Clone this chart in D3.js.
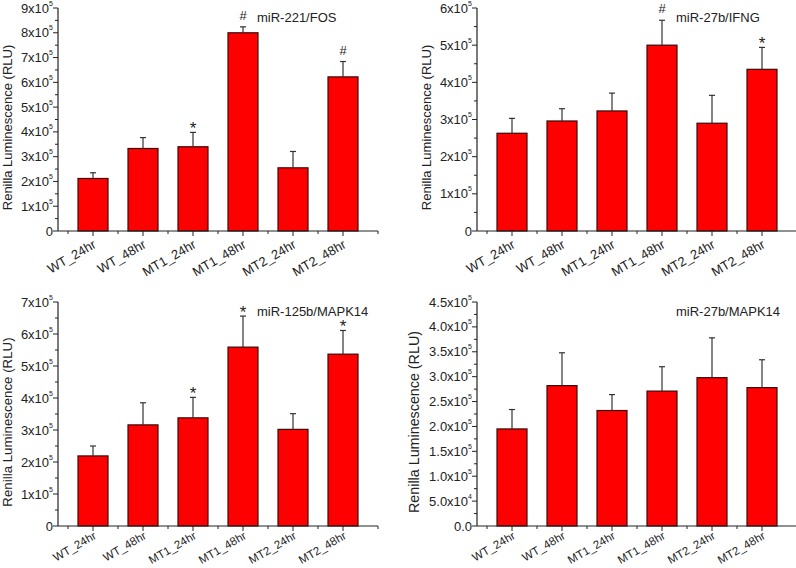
<!DOCTYPE html>
<html>
<head>
<meta charset="utf-8">
<script src="https://cdn.jsdelivr.net/npm/d3@7"></script>
<style>
  body { margin: 0; background: #fff; }
  svg { font-family: "Liberation Sans", Arial, sans-serif; }
</style>
</head>
<body>
<svg id="chart" width="796" height="568"></svg>
<script>
// bar fill #FF0000, outline dark

var categories = ["WT_24hr", "WT_48hr", "MT1_24hr", "MT1_48hr", "MT2_24hr", "MT2_48hr"];

// miR-221/FOS
var fosMean = [2.12e5, 3.33e5, 3.40e5, 8.00e5, 2.55e5, 6.22e5];
var fosErr = [0.23e5, 0.44e5, 0.58e5, 0.24e5, 0.66e5, 0.62e5];
var fosMarks = ["", "", "*", "#", "", "#"];

// miR-27b/IFNG
var ifngMean = [2.63e5, 2.96e5, 3.23e5, 5.00e5, 2.90e5, 4.35e5];
var ifngErr = [0.40e5, 0.33e5, 0.48e5, 0.67e5, 0.75e5, 0.59e5];
var ifngMarks = ["", "", "", "#", "", "*"];

// miR-125b/MAPK14
var m125Mean = [2.19e5, 3.16e5, 3.38e5, 5.59e5, 3.02e5, 5.37e5];
var m125Err = [0.31e5, 0.69e5, 0.64e5, 0.97e5, 0.49e5, 0.74e5];
var m125Marks = ["", "", "*", "*", "", "*"];

// miR-27b/MAPK14
var m27Mean = [1.95e5, 2.82e5, 2.32e5, 2.71e5, 2.98e5, 2.78e5];
var m27Err = [0.39e5, 0.66e5, 0.32e5, 0.49e5, 0.80e5, 0.56e5];
var m27Marks = ["", "", "", "", "", ""];

var panels = [
    { title: "miR-221/FOS", mean: fosMean, err: fosErr, marks: fosMarks,
      yMax: 9e5, step: 1e5, dec: 0, left: 58, right: 378, top: 8, bottom: 231,
      titleX: 7, titleSize: 13, xlabSize: 13, xlabDy: 16 },
    { title: "miR-27b/IFNG", mean: ifngMean, err: ifngErr, marks: ifngMarks,
      yMax: 6e5, step: 1e5, dec: 0, left: 477, right: 797, top: 8, bottom: 231,
      titleX: 426, titleSize: 13, xlabSize: 13, xlabDy: 16 },
    { title: "miR-125b/MAPK14", mean: m125Mean, err: m125Err, marks: m125Marks,
      yMax: 7e5, step: 1e5, dec: 0, left: 58, right: 378, top: 302, bottom: 526,
      titleX: 7, titleSize: 13.3, xlabSize: 11.5, xlabDy: 12 },
    { title: "miR-27b/MAPK14", mean: m27Mean, err: m27Err, marks: m27Marks,
      yMax: 4.5e5, step: 0.5e5, dec: 1, left: 477, right: 797, top: 302, bottom: 526,
      titleX: 414, titleSize: 14.3, xlabSize: 11.5, xlabDy: 12 }
];

var svg = d3.select("#chart");

panels.forEach(function (p) {
    drawPanel(p);
});

function drawPanel(p) {

    var x = d3.scaleBand()
        .domain(categories)
        .range([p.left, p.right])
        .padding(0.4);

    var y = d3.scaleLinear()
        .domain([0, p.yMax])
        .range([p.bottom, p.top]);

    var g = svg.append("g");

    var data = categories.map(function (c, i) {
        return { name: c, value: p.mean[i], err: p.err[i], mark: p.marks[i] };
    });

    // bars
    g.selectAll("rect.bar")
        .data(data)
        .enter()
        .append("rect")
        .attr("class", "bar")
        .attr("x", function (d) { return x(d.name); })
        .attr("y", function (d) { return y(d.value); })
        .attr("width", x.bandwidth())
        .attr("height", function (d) { return y(0) - y(d.value); })
        .style("fill", "#ff0000")
        .style("stroke", "#3a0a0a")
        .style("stroke-width", 1.2);

    // error bars (upper only)
    var cx = function (d) { return x(d.name) + x.bandwidth() / 2; };

    g.selectAll("line.err")
        .data(data)
        .enter()
        .append("line")
        .attr("x1", cx)
        .attr("x2", cx)
        .attr("y1", function (d) { return y(d.value); })
        .attr("y2", function (d) { return y(d.value + d.err); })
        .style("stroke", "#333")
        .style("stroke-width", 1.2);

    g.selectAll("line.cap")
        .data(data)
        .enter()
        .append("line")
        .attr("x1", function (d) { return cx(d) - 3; })
        .attr("x2", function (d) { return cx(d) + 3; })
        .attr("y1", function (d) { return y(d.value + d.err); })
        .attr("y2", function (d) { return y(d.value + d.err); })
        .style("stroke", "#333")
        .style("stroke-width", 1.2);

    // significance marks
    g.selectAll("text.mark")
        .data(data.filter(function (d) { return d.mark; }))
        .enter()
        .append("text")
        .attr("x", cx)
        .attr("y", function (d) { return y(d.value + d.err) + (d.mark === "*" ? 2 : -7); })
        .attr("text-anchor", "middle")
        .style("font-size", function (d) { return d.mark === "*" ? "17px" : "13px"; })
        .style("fill", "#222")
        .text(function (d) { return d.mark; });

    // y axis
    var majors = d3.range(0, p.yMax + p.step / 2, p.step);
    var minors = d3.range(p.step / 2, p.yMax, p.step);

    g.append("line")
        .attr("x1", p.left).attr("x2", p.left)
        .attr("y1", y(0)).attr("y2", y(p.yMax))
        .style("stroke", "#222").style("stroke-width", 1.2);

    g.selectAll("line.ymaj")
        .data(majors)
        .enter()
        .append("line")
        .attr("x1", p.left - 5).attr("x2", p.left)
        .attr("y1", function (d) { return y(d); })
        .attr("y2", function (d) { return y(d); })
        .style("stroke", "#222").style("stroke-width", 1);

    g.selectAll("line.ymin")
        .data(minors)
        .enter()
        .append("line")
        .attr("x1", p.left - 3).attr("x2", p.left)
        .attr("y1", function (d) { return y(d); })
        .attr("y2", function (d) { return y(d); })
        .style("stroke", "#222").style("stroke-width", 1);

    var ylab = g.selectAll("text.ytick")
        .data(majors)
        .enter()
        .append("text")
        .attr("x", p.left - 5)
        .attr("y", function (d) { return y(d) + 4.5; })
        .attr("text-anchor", "end")
        .style("font-size", "13px")
        .style("fill", "#222");

    ylab.each(function (d) {
        var t = d3.select(this);
        if (d === 0) {
            t.text(p.dec ? (0).toFixed(p.dec) : "0");
            return;
        }
        var e = Math.floor(Math.log10(d) + 1e-9);
        var m = d / Math.pow(10, e);
        t.append("tspan").text(m.toFixed(p.dec) + "x10");
        t.append("tspan")
            .attr("dy", -7)
            .style("font-size", "7px")
            .text(e);
    });

    // y title
    g.append("text")
        .attr("transform", "translate(" + p.titleX + "," + ((p.top + p.bottom) / 2 + 8) + ") rotate(-90)")
        .attr("text-anchor", "middle")
        .attr("dy", "0.35em")
        .style("font-size", p.titleSize + "px")
        .style("fill", "#222")
        .text("Renilla Luminescence (RLU)");

    // x axis
    g.append("line")
        .attr("x1", p.left).attr("x2", p.right)
        .attr("y1", y(0)).attr("y2", y(0))
        .style("stroke", "#222").style("stroke-width", 1.2);

    g.selectAll("line.xmaj")
        .data(categories)
        .enter()
        .append("line")
        .attr("x1", function (d) { return x(d) + x.bandwidth() / 2; })
        .attr("x2", function (d) { return x(d) + x.bandwidth() / 2; })
        .attr("y1", y(0)).attr("y2", y(0) + 5)
        .style("stroke", "#222").style("stroke-width", 1);

    var bounds = categories.map(function (d) { return x(d) - x.step() * x.paddingInner() / 2; });
    bounds.push(p.right);

    g.selectAll("line.xmin")
        .data(bounds)
        .enter()
        .append("line")
        .attr("x1", function (d) { return d; })
        .attr("x2", function (d) { return d; })
        .attr("y1", y(0)).attr("y2", y(0) + 3)
        .style("stroke", "#222").style("stroke-width", 1);

    g.selectAll("text.xtick")
        .data(categories)
        .enter()
        .append("text")
        .attr("transform", function (d) {
            return "translate(" + (x(d) + x.bandwidth() / 2 + 4) + "," + (y(0) + p.xlabDy) + ") rotate(-30)";
        })
        .attr("text-anchor", "end")
        .style("font-size", p.xlabSize + "px")
        .style("fill", "#222")
        .text(function (d) { return d; });

    // panel label
    g.append("text")
        .attr("x", p.left + 199)
        .attr("y", p.top + 14)
        .style("font-size", "13px")
        .style("fill", "#222")
        .text(p.title);
}
</script>
</body>
</html>
